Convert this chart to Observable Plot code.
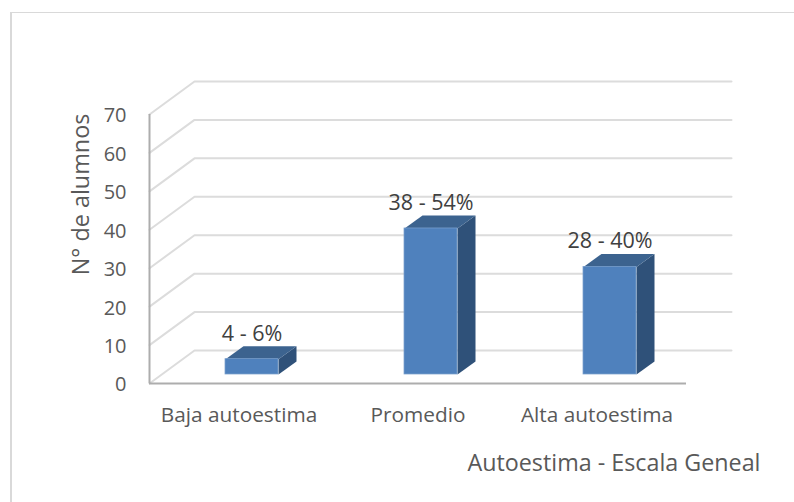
<!DOCTYPE html>
<html>
<head>
<meta charset="utf-8">
<script src="https://cdn.jsdelivr.net/npm/d3@7"></script>
<script src="https://cdn.jsdelivr.net/npm/@observablehq/plot@0.6"></script>
<style>
html,body{margin:0;padding:0;background:#fff}
#frame{position:absolute;left:10px;top:12px;width:784px;height:490px;border-left:2px solid #d9d9d9;border-top:1.5px solid #d9d9d9;box-sizing:border-box}
#chart{position:absolute;left:0;top:0}
</style>
</head>
<body>
<div id="frame"></div>
<div id="chart"></div>
<script>
const categories = ["Baja autoestima", "Promedio", "Alta autoestima"];
const counts = [4, 38, 28];
const barLabels = ["4 - 6%", "38 - 54%", "28 - 40%"];
const yTicks = [0, 10, 20, 30, 40, 50, 60, 70];
const yTitle = "N° de alumnos";
const xTitle = "Autoestima - Escala Geneal";

// oblique projection, expressed in scale units
const unitX = 179, unitY = 269 / 70;
const wallX = 45 / unitX, wallY = 33 / unitY;
const barX = 18 / unitX, barY = 13 / unitY;
const gapX = 13 / unitX, gapY = 9 / unitY;
const halfBar = 26.5 / unitX;
const font = "'Open Sans', 'Noto Sans', sans-serif";

const bars = categories.map((c, i) => ({c, i, v: counts[i], label: barLabels[i],
  l: i + 0.5 + gapX - halfBar, r: i + 0.5 + gapX + halfBar, b: gapY}));

const gridPts = yTicks.flatMap(t => [
  {t, x: 0, y: t},
  {t, x: wallX, y: t + wallY},
  {t, x: 3 + wallX, y: t + wallY}
]);
const topFace = bars.flatMap(d => [
  {c: d.c, x: d.l, y: d.v + d.b},
  {c: d.c, x: d.l + barX, y: d.v + d.b + barY},
  {c: d.c, x: d.r + barX, y: d.v + d.b + barY},
  {c: d.c, x: d.r, y: d.v + d.b}
]);
const sideFace = bars.flatMap(d => [
  {c: d.c, x: d.r, y: d.b},
  {c: d.c, x: d.r + barX, y: d.b + barY},
  {c: d.c, x: d.r + barX, y: d.v + d.b + barY},
  {c: d.c, x: d.r, y: d.v + d.b}
]);

const chart = Plot.plot({
  width: 794, height: 502,
  marginLeft: 149, marginRight: 108, marginTop: 114, marginBottom: 119,
  style: {background: "transparent", fontFamily: font},
  x: {domain: [0, 3], axis: null},
  y: {domain: [0, 70], axis: null},
  marks: [
    Plot.line(gridPts, {x: "x", y: "y", z: "t", stroke: "#dcdcdc", strokeWidth: 2}),
    Plot.ruleX([0], {y1: 0, y2: 70, stroke: "#adadad", strokeWidth: 2}),
    Plot.ruleY([0], {x1: 0, x2: 3, stroke: "#adadad", strokeWidth: 2}),
    Plot.line(sideFace, {x: "x", y: "y", z: "c", fill: "#2f5179", stroke: "none", curve: "linear-closed"}),
    Plot.line(topFace, {x: "x", y: "y", z: "c", fill: "#3c638f", stroke: "none", curve: "linear-closed"}),
    Plot.rect(bars, {x1: "l", x2: "r", y1: "b", y2: d => d.v + d.b, fill: "#4f81bd", stroke: "#7ba0cd", strokeWidth: 0.75}),
    Plot.text(bars, {x: d => d.i + 0.5 + gapX, y: d => d.v + d.b + barY, text: "label", dy: -12.5, fontSize: 21.5, fill: "#404040", fontFamily: font}),
    Plot.text(yTicks, {x: 0, y: d => d, text: d => String(d), textAnchor: "end", dx: -23, dy: 1.5, fontSize: 20, fill: "#595959", fontFamily: font}),
    Plot.text(bars, {x: d => d.i + 0.5, y: 0, text: "c", dy: 32, fontSize: 20.8, fill: "#595959", fontFamily: font}),
    Plot.text([yTitle], {x: 0, y: 49.2, text: d => d, rotate: -90, dx: -68, fontSize: 23.4, fill: "#595959", fontFamily: font}),
    Plot.text([xTitle], {x: 3, y: 0, text: d => d, textAnchor: "end", dx: 74, dy: 80, fontSize: 23.3, fill: "#595959", fontFamily: font})
  ]
});
document.getElementById("chart").appendChild(chart);
</script>
</body>
</html>
